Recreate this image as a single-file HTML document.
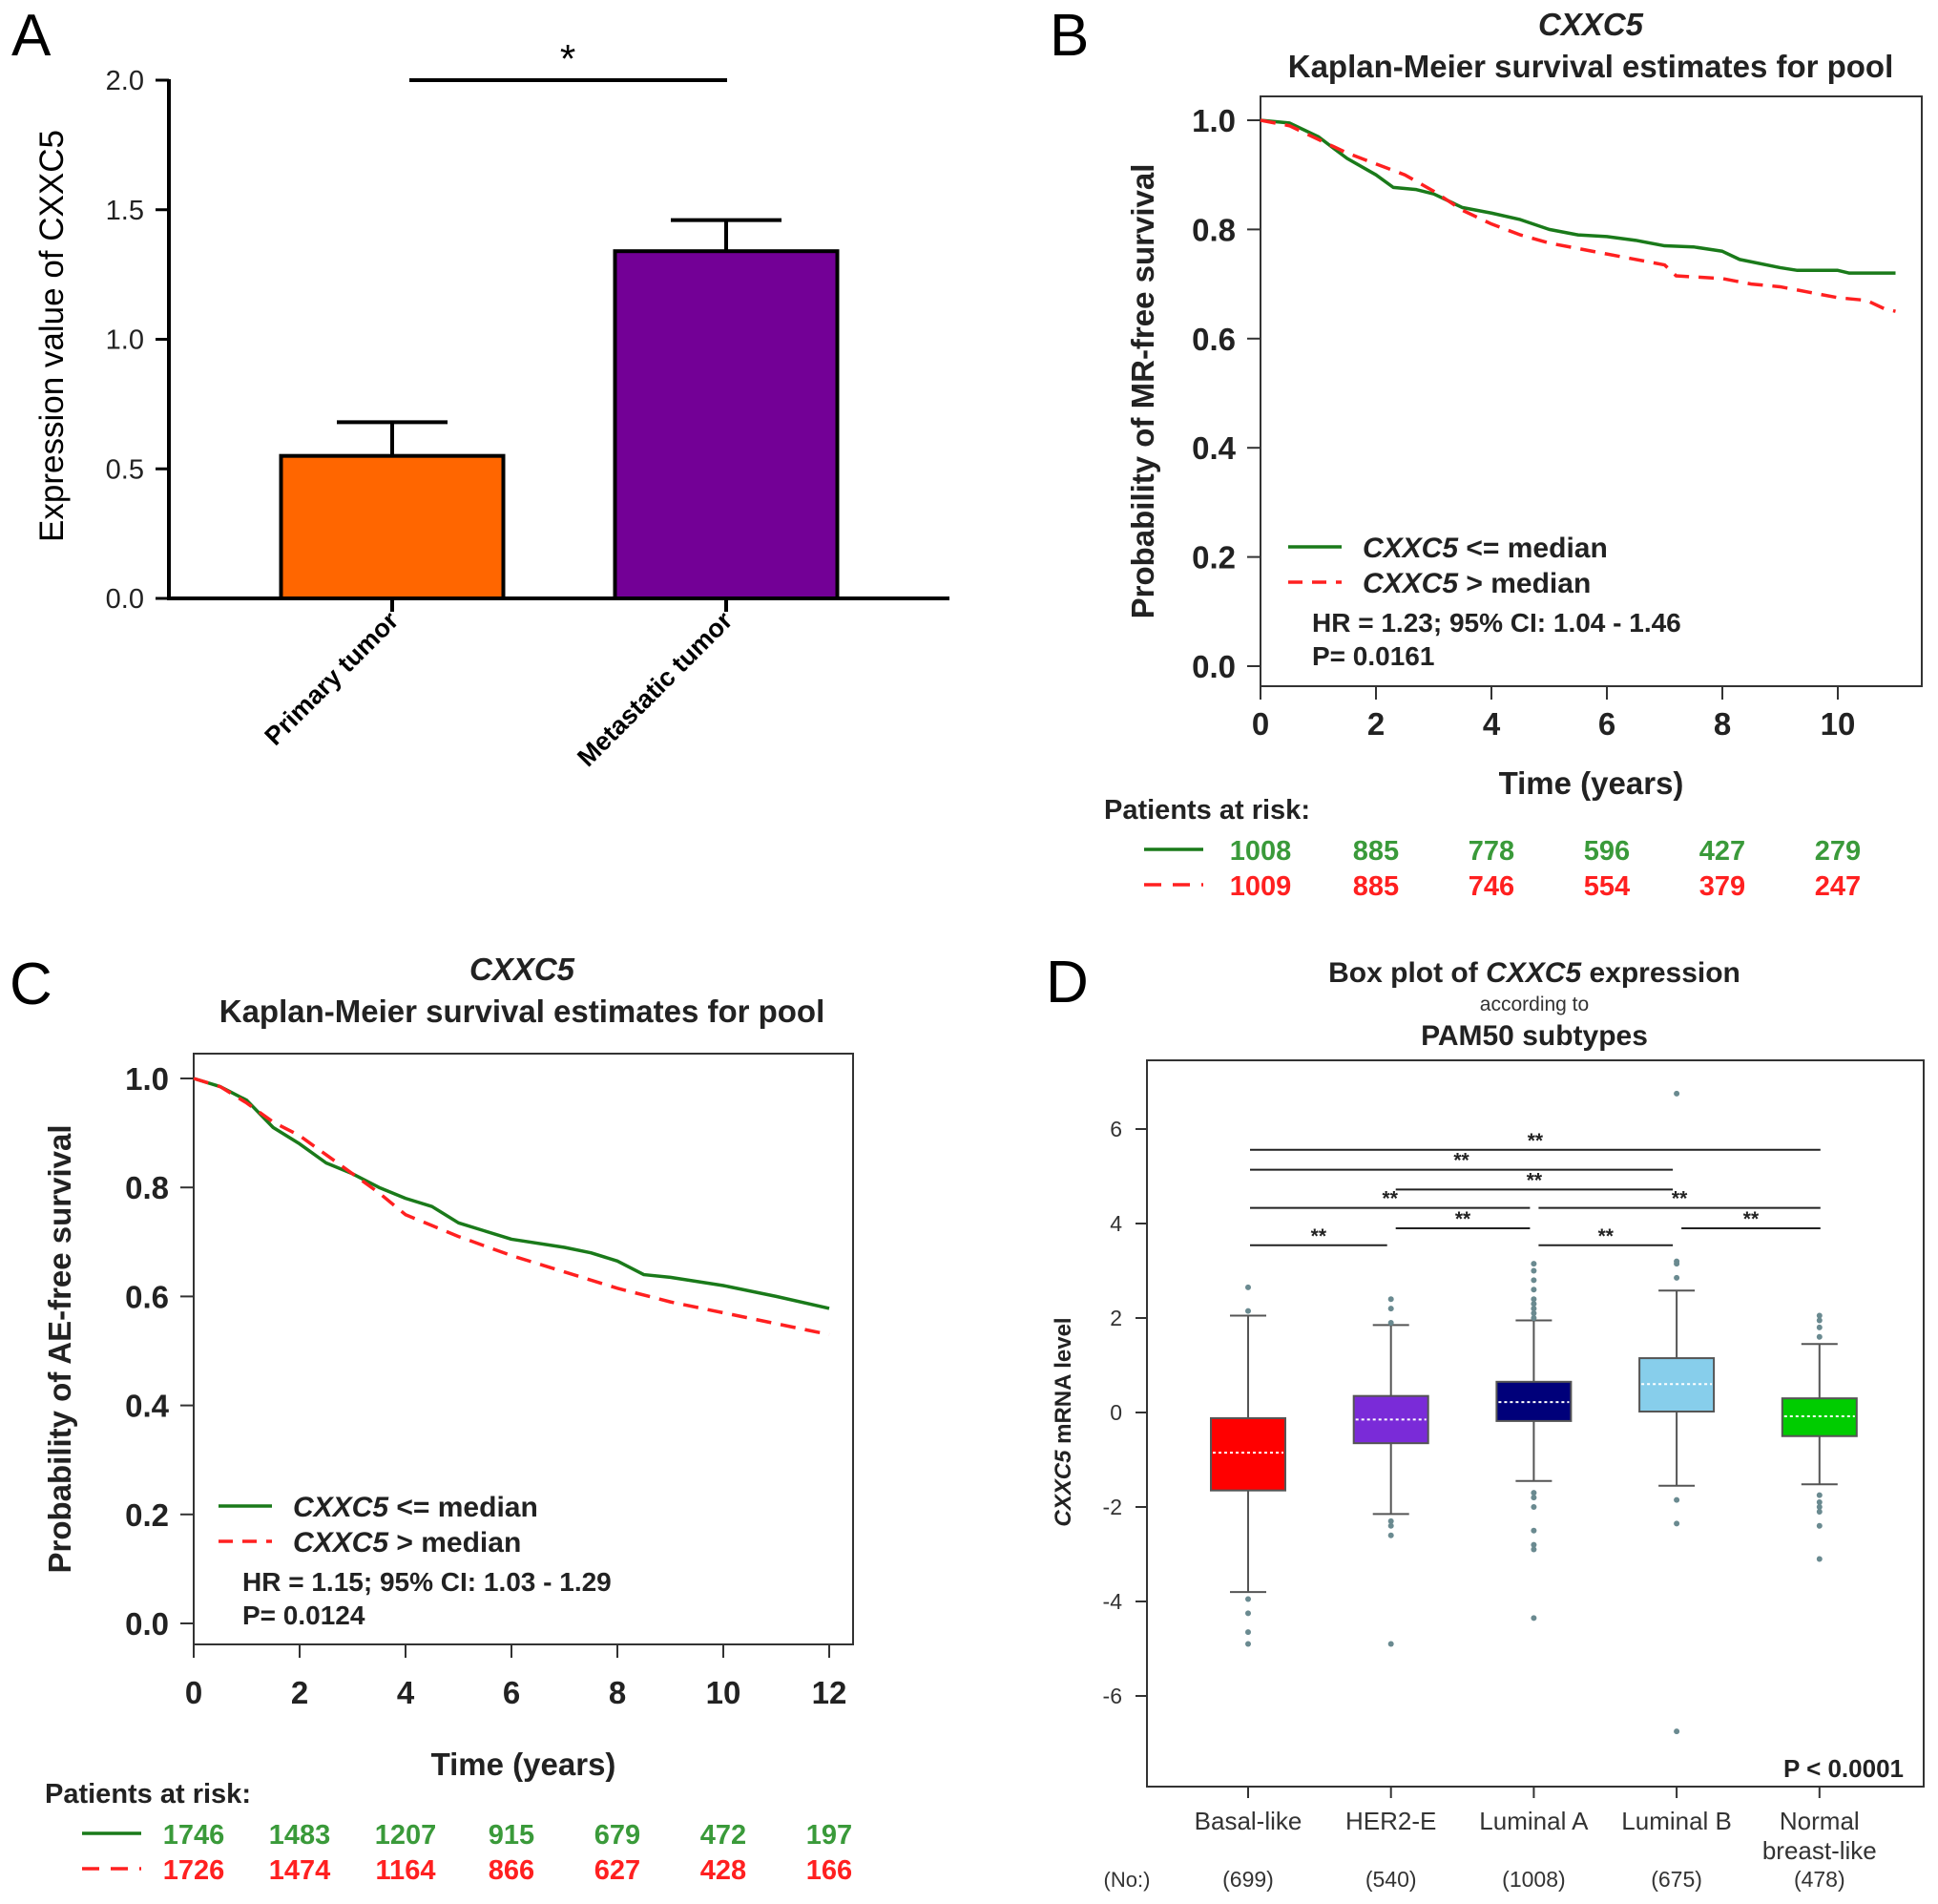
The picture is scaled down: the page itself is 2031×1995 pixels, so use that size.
<!DOCTYPE html>
<html><head><meta charset="utf-8"><style>
body{margin:0;background:#fff}
svg{display:block}
text{font-family:"Liberation Sans",sans-serif}
</style></head><body>
<svg id="s" width="2031" height="1995" viewBox="0 0 2031 1995" xmlns="http://www.w3.org/2000/svg">
<g id="A"></g>
<g id="B"></g>
<g id="C"></g>
<g id="D"></g>
</svg>
<script>
// Panel A data
const aCats=["Primary tumor","Metastatic tumor"];
const aVals=[0.55,1.34];
const aErr=[0.13,0.12];
const aTicks=["0.0","0.5","1.0","1.5","2.0"];
// Panel B data
const bGreenT=[0,0.5,1,1.5,2,2.3,2.7,3,3.5,4,4.5,5,5.5,6,6.5,7,7.5,8,8.3,9,9.3,10,10.2,11];
const bGreenS=[1,0.995,0.97,0.93,0.9,0.877,0.873,0.865,0.84,0.83,0.818,0.8,0.79,0.787,0.78,0.77,0.768,0.76,0.745,0.73,0.725,0.725,0.72,0.72];
const bRedT=[0,0.5,1,1.5,2,2.5,3,3.5,4,4.5,5,6,7,7.2,8,8.5,9,9.5,10,10.5,10.8,11];
const bRedS=[1,0.99,0.965,0.94,0.92,0.9,0.87,0.835,0.81,0.79,0.775,0.755,0.735,0.715,0.71,0.7,0.695,0.685,0.675,0.67,0.655,0.65];
const bXTicks=[0,2,4,6,8,10];
const bRiskG=["1008","885","778","596","427","279"];
const bRiskR=["1009","885","746","554","379","247"];
// Panel C data
const cGreenT=[0,0.5,1,1.5,2,2.5,3,3.5,4,4.5,5,5.5,6,7,7.5,8,8.5,9,10,11,12];
const cGreenS=[1,0.985,0.96,0.91,0.88,0.845,0.825,0.8,0.78,0.765,0.735,0.72,0.705,0.69,0.68,0.665,0.64,0.635,0.62,0.6,0.578];
const cRedT=[0,0.5,1,1.5,2,2.5,3,3.5,4,4.5,5,6,7,8,9,10,11,12];
const cRedS=[1,0.985,0.955,0.92,0.895,0.86,0.825,0.79,0.75,0.73,0.71,0.675,0.645,0.615,0.59,0.57,0.55,0.53];
const cXTicks=[0,2,4,6,8,10,12];
const cRiskG=["1746","1483","1207","915","679","472","197"];
const cRiskR=["1726","1474","1164","866","627","428","166"];
const kmYTicks=[0,0.2,0.4,0.6,0.8,1.0];
// Panel D data
const dCats=["Basal-like","HER2-E","Luminal A","Luminal B","Normal|breast-like"];
const dN=["(699)","(540)","(1008)","(675)","(478)"];
const dQ1=[-1.65,-0.65,-0.18,0.02,-0.5];
const dMed=[-0.85,-0.15,0.22,0.6,-0.08];
const dQ3=[-0.12,0.35,0.65,1.15,0.3];
const dWLo=[-3.8,-2.15,-1.45,-1.55,-1.52];
const dWHi=[2.05,1.85,1.95,2.58,1.45];
const dOut=[[2.65,2.15,-3.95,-4.25,-4.65,-4.9],[2.4,2.2,1.9,-2.3,-2.4,-2.6,-4.9],[2.0,2.1,2.2,2.3,2.4,2.6,2.8,3.0,3.15,-1.7,-1.8,-2.0,-2.5,-2.8,-2.9,-4.35],[2.85,3.15,3.2,6.75,-1.85,-2.35,-6.75],[1.6,1.8,1.95,2.05,-1.75,-1.9,-2.0,-2.1,-2.4,-3.1]];
const dColors=["#ff0000","#7a2bd8","#00007a","#87ceeb","#00cc00"];
const dYTicks=[-6,-4,-2,0,2,4,6];
const sigFrom=[0,1,2,3,0,2,1,0,0];
const sigTo=[1,2,3,4,2,4,3,3,4];
const sigY=[3.54,3.9,3.54,3.9,4.33,4.33,4.72,5.14,5.56];

const NS="http://www.w3.org/2000/svg";
function mk(p,tag,attrs,txt){const e=document.createElementNS(NS,tag);for(const k in attrs)e.setAttribute(k,attrs[k]);if(txt!==undefined)e.textContent=txt;p.appendChild(e);return e;}

// ---------- Panel A ----------
(function(){
const g=document.getElementById('A');
const y=v=>627-v*271.5;
const cx=[411,761],bw=233,aCol=["#ff6600","#730096"];
let t=mk(g,'text',{x:12,y:58,'font-size':62},"A");

let ax=mk(g,'line',{x1:177,y1:y(2)-1,x2:177,y2:627,stroke:'#000','stroke-width':4});

let xa=mk(g,'line',{x1:175,y1:627,x2:995,y2:627,stroke:'#000','stroke-width':4});

aTicks.forEach(s=>{const v=parseFloat(s);
 let l=mk(g,'line',{x1:163,y1:y(v),x2:177,y2:y(v),stroke:'#000','stroke-width':3});
 
 let tt=mk(g,'text',{x:151,y:y(v)+10,'font-size':29,'text-anchor':'end',fill:'#222'},s);
 });
let yl=mk(g,'text',{x:0,y:0,'font-size':35,'text-anchor':'middle',transform:'translate(66,352) rotate(-90)'},"Expression value of CXXC5");

aVals.forEach((v,i)=>{
 let r=mk(g,'rect',{x:cx[i]-bw/2,y:y(v),width:bw,height:627-y(v),fill:aCol[i],stroke:'#000','stroke-width':4});
 
 let e=mk(g,'path',{d:`M${cx[i]} ${y(v)} V${y(v+aErr[i])} M${cx[i]-58} ${y(v+aErr[i])} H${cx[i]+58}`,stroke:'#000','stroke-width':4,fill:'none'});
 
 let tk=mk(g,'line',{x1:cx[i],y1:627,x2:cx[i],y2:641,stroke:'#000','stroke-width':4});
 
 let lb=mk(g,'text',{x:0,y:0,'font-size':27,'font-weight':'bold','text-anchor':'end',transform:`translate(${cx[i]+8},${652}) rotate(-45)`},aCats[i]);
 
});
let sb=mk(g,'line',{x1:429,y1:y(2),x2:762,y2:y(2),stroke:'#000','stroke-width':4});

let st=mk(g,'text',{x:595,y:76,'font-size':42,'text-anchor':'middle'},"*");

})();

// ---------- KM panels ----------
function km(gid,o){
const g=document.getElementById(gid);
const x=t=>o.x0+t*o.px;const y=s=>o.y0-s*(o.y0-o.y1);
let pl=mk(g,'text',{x:o.lx,y:o.ly,'font-size':62},o.letter);

let t1=mk(g,'text',{x:o.cx,y:o.ty,'font-size':33,'font-weight':'bold','font-style':'italic','text-anchor':'middle',fill:'#222'},"CXXC5");

let t2=mk(g,'text',{x:o.cx,y:o.ty+44,'font-size':33,'font-weight':'bold','text-anchor':'middle',fill:'#222'},"Kaplan-Meier survival estimates for pool");

let bx=mk(g,'rect',{x:o.bl,y:o.bt,width:o.br-o.bl,height:o.bb-o.bt,fill:'none',stroke:'#333','stroke-width':2});

kmYTicks.forEach(v=>{
 let l=mk(g,'line',{x1:o.bl-14,y1:y(v),x2:o.bl,y2:y(v),stroke:'#333','stroke-width':2});
 
 let tt=mk(g,'text',{x:o.bl-26,y:y(v)+12,'font-size':33,'font-weight':'bold','text-anchor':'end',fill:'#222'},v.toFixed(1));
 });
o.xt.forEach(v=>{
 let l=mk(g,'line',{x1:x(v),y1:o.bb,x2:x(v),y2:o.bb+14,stroke:'#333','stroke-width':2});
 
 let tt=mk(g,'text',{x:x(v),y:o.bb+o.xtoff,'font-size':33,'font-weight':'bold','text-anchor':'middle',fill:'#222'},v);
 });
let yl=mk(g,'text',{x:0,y:0,'font-size':33,'font-weight':'bold','text-anchor':'middle',fill:'#222',transform:`translate(${o.ylx},${(o.bt+o.bb)/2}) rotate(-90)`},o.ylab);

let xl=mk(g,'text',{x:(o.bl+o.br)/2,y:o.xty,'font-size':33,'font-weight':'bold','text-anchor':'middle',fill:'#222'},"Time (years)");

function line(T,S){return T.map((t,i)=>(i?'L':'M')+x(t)+' '+y(S[i])).join(' ');}
let gc=mk(g,'path',{d:line(o.gT,o.gS),fill:'none',stroke:'#1a7a1a','stroke-width':3.5,'stroke-linejoin':'round'});

let rc=mk(g,'path',{d:line(o.rT,o.rS),fill:'none',stroke:'#ff2020','stroke-width':3.5,'stroke-dasharray':'16 10'});

// legend
let l1=mk(g,'line',{x1:o.lgx,y1:o.lgy,x2:o.lgx+56,y2:o.lgy,stroke:'#1a7a1a','stroke-width':3.5});

let lt1=mk(g,'text',{x:o.lgx+78,y:o.lgy+11,'font-size':30,'font-weight':'bold',fill:'#222'});

mk(lt1,'tspan',{'font-style':'italic'},"CXXC5");mk(lt1,'tspan',{},"  <= median");
let l2=mk(g,'line',{x1:o.lgx,y1:o.lgy+37,x2:o.lgx+56,y2:o.lgy+37,stroke:'#ff2020','stroke-width':3.5,'stroke-dasharray':'15 10'});

let lt2=mk(g,'text',{x:o.lgx+78,y:o.lgy+48,'font-size':30,'font-weight':'bold',fill:'#222'});

mk(lt2,'tspan',{'font-style':'italic'},"CXXC5");mk(lt2,'tspan',{},"  > median");
let hr=mk(g,'text',{x:o.lgx+25,y:o.lgy+89,'font-size':28,'font-weight':'bold',fill:'#222'},o.hr);

let pv=mk(g,'text',{x:o.lgx+25,y:o.lgy+124,'font-size':28,'font-weight':'bold',fill:'#222'},o.p);

// risk table
let pr=mk(g,'text',{x:o.parx,y:o.pary,'font-size':29,'font-weight':'bold',fill:'#222'},"Patients at risk:");

let rl1=mk(g,'line',{x1:o.rlx,y1:o.pary+32,x2:o.rlx+62,y2:o.pary+32,stroke:'#1a7a1a','stroke-width':3.5});

let rl2=mk(g,'line',{x1:o.rlx,y1:o.pary+69,x2:o.rlx+62,y2:o.pary+69,stroke:'#ff2020','stroke-width':3.5,'stroke-dasharray':'18 12'});

o.xt.forEach((v,i)=>{
 let a=mk(g,'text',{x:x(v),y:o.pary+43,'font-size':29,'font-weight':'bold','text-anchor':'middle',fill:'#3a9a3a'},o.rg[i]);
 
 let b=mk(g,'text',{x:x(v),y:o.pary+80,'font-size':29,'font-weight':'bold','text-anchor':'middle',fill:'#ff2020'},o.rr[i]);
 });
}
km('B',{letter:'B',lx:1100,ly:58,cx:1667,ty:37,bl:1321,br:2014,bt:101,bb:719,x0:1321,px:60.5,y0:698,y1:126,xt:bXTicks,xtoff:51,
 ylx:1209,ylab:"Probability of MR-free survival",xty:832,gT:bGreenT,gS:bGreenS,rT:bRedT,rS:bRedS,lgx:1350,lgy:573,
 hr:"HR = 1.23; 95% CI: 1.04 - 1.46",p:"P= 0.0161",parx:1157,pary:858,rlx:1199,rg:bRiskG,rr:bRiskR});
km('C',{letter:'C',lx:10,ly:1052,cx:547,ty:1027,bl:203,br:894,bt:1104,bb:1723,x0:203,px:55.5,y0:1701,y1:1130,xt:cXTicks,xtoff:62,
 ylx:74,ylab:"Probability of AE-free survival",xty:1860,gT:cGreenT,gS:cGreenS,rT:cRedT,rS:cRedS,lgx:229,lgy:1578,
 hr:"HR = 1.15; 95% CI: 1.03 - 1.29",p:"P= 0.0124",parx:47,pary:1889,rlx:86,rg:cRiskG,rr:cRiskR});

// ---------- Panel D ----------
(function(){
const g=document.getElementById('D');
const y=v=>1480-v*49.5;const x=i=>1308+i*149.7;
let pl=mk(g,'text',{x:1096,y:1050,'font-size':62},"D");

let t1=mk(g,'text',{x:1608,y:1029,'font-size':30,'font-weight':'bold','text-anchor':'middle',fill:'#222'});

mk(t1,'tspan',{},"Box plot of ");mk(t1,'tspan',{'font-style':'italic'},"CXXC5");mk(t1,'tspan',{}," expression");
let t2=mk(g,'text',{x:1608,y:1059,'font-size':21,'text-anchor':'middle',fill:'#333'},"according to");

let t3=mk(g,'text',{x:1608,y:1095,'font-size':30,'font-weight':'bold','text-anchor':'middle',fill:'#222'},"PAM50 subtypes");

let bx=mk(g,'rect',{x:1202,y:1111,width:814,height:761,fill:'none',stroke:'#333','stroke-width':2});

dYTicks.forEach(v=>{
 let l=mk(g,'line',{x1:1190,y1:y(v),x2:1202,y2:y(v),stroke:'#333','stroke-width':2});
 
 let tt=mk(g,'text',{x:1176,y:y(v)+8,'font-size':23,'text-anchor':'end',fill:'#333'},v);
 });
let yl=mk(g,'text',{x:0,y:0,'font-size':24,'font-weight':'bold','text-anchor':'middle',fill:'#222',transform:'translate(1122,1490) rotate(-90)'});

mk(yl,'tspan',{'font-style':'italic'},"CXXC5");mk(yl,'tspan',{}," mRNA level");
dCats.forEach((c,i)=>{
 let tk=mk(g,'line',{x1:x(i),y1:1872,x2:x(i),y2:1884,stroke:'#333','stroke-width':2});
 
 const parts=c.split('|');
 parts.forEach((p,k)=>{let tt=mk(g,'text',{x:x(i),y:1917+k*31,'font-size':26,'text-anchor':'middle',fill:'#333'},p);
  });
 let n=mk(g,'text',{x:x(i),y:1977,'font-size':23,'text-anchor':'middle',fill:'#333'},dN[i]);
 
 let w=mk(g,'path',{d:`M${x(i)} ${y(dWLo[i])} V${y(dQ1[i])} M${x(i)} ${y(dQ3[i])} V${y(dWHi[i])} M${x(i)-19} ${y(dWLo[i])} H${x(i)+19} M${x(i)-19} ${y(dWHi[i])} H${x(i)+19}`,stroke:'#555','stroke-width':2,fill:'none'});
 
 let b=mk(g,'rect',{x:x(i)-39,y:y(dQ3[i]),width:78,height:y(dQ1[i])-y(dQ3[i]),fill:dColors[i],stroke:'#555','stroke-width':2});
 
 let m=mk(g,'line',{x1:x(i)-37,y1:y(dMed[i]),x2:x(i)+37,y2:y(dMed[i]),stroke:'#fff','stroke-width':2,'stroke-dasharray':'3 3'});
 
 dOut[i].forEach(v=>{let d=mk(g,'circle',{cx:x(i),cy:y(v),r:3,fill:'#6a8a90'});
  });
});
let nl=mk(g,'text',{x:1181,y:1977,'font-size':22,'text-anchor':'middle',fill:'#333'},"(No:)");

sigFrom.forEach((a,k)=>{const b=sigTo[k];
 const x1=x(a)+(a===0?2:5),x2=x(b)-(b===4?-1:4);
 let l=mk(g,'line',{x1:x1,y1:y(sigY[k]),x2:x2,y2:y(sigY[k]),stroke:'#222','stroke-width':2});
 
 let s=mk(g,'text',{x:(x1+x2)/2,y:y(sigY[k])-3,'font-size':21,'font-weight':'bold','text-anchor':'middle',fill:'#222'},"**");
 });
let p=mk(g,'text',{x:1995,y:1862,'font-size':26,'font-weight':'bold','text-anchor':'end',fill:'#222'},"P < 0.0001");

})();
</script>
</body></html>
